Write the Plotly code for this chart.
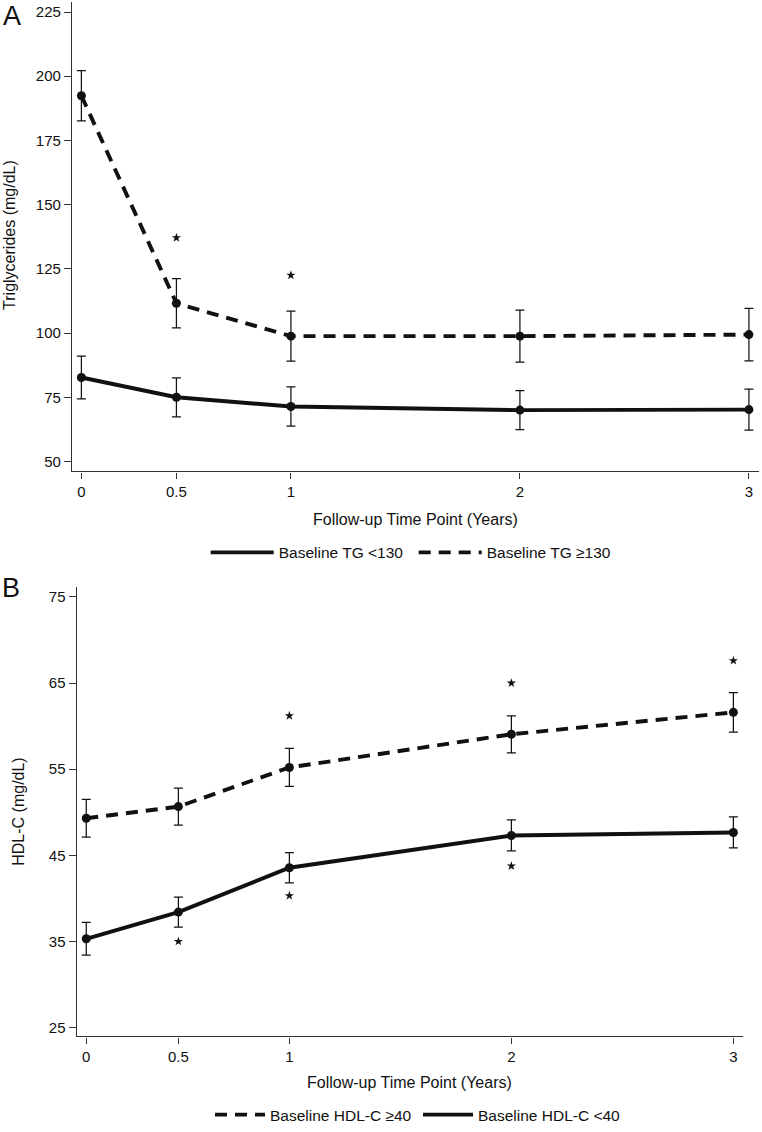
import plotly.graph_objects as go

# ---------------- data ----------------
time_pos = [0.085, 0.5, 1, 2, 3]          # plotted follow-up positions (years)
tick_labels = ["0", "0.5", "1", "2", "3"]

# Panel A: triglycerides (mg/dL), mean and error half-width
tg_low_mean = [82.7, 75.0, 71.4, 70.0, 70.2]
tg_low_err = [8.3, 7.6, 7.6, 7.6, 8.0]
tg_high_mean = [192.4, 111.6, 98.8, 98.8, 99.4]
tg_high_err = [9.8, 9.6, 9.7, 10.1, 10.2]
tg_star_x = [0.5, 1]
tg_star_y = [137.1, 122.5]
tg_ticks = [50, 75, 100, 125, 150, 175, 200, 225]

# Panel B: HDL-C (mg/dL)
hdl_high_mean = [49.3, 50.65, 55.2, 59.05, 61.6]
hdl_high_err = [2.2, 2.15, 2.2, 2.15, 2.3]
hdl_low_mean = [35.3, 38.4, 43.55, 47.3, 47.65]
hdl_low_err = [1.9, 1.75, 1.75, 1.8, 1.8]
hdl_star_x = [0.5, 1, 1, 2, 2, 3]
hdl_star_y = [35.0, 40.3, 61.2, 65.0, 43.75, 67.6]
hdl_ticks = [25, 35, 45, 55, 65, 75]

# ---------------- layout helpers ----------------
W, H = 762, 1132
FONT = "Liberation Sans, Arial, Helvetica, sans-serif"
INK = "#111111"
AX = "#333333"
DASH = "12px,8px"
LW = 3.9


def px(x):
    return x / W


def py(y):
    return 1 - y / H


def series(x, y, err, dash, xa, ya):
    return go.Scatter(
        x=x, y=y, mode="lines+markers", showlegend=False,
        line=dict(color=INK, width=LW, dash=dash),
        marker=dict(color=INK, size=9, symbol="circle"),
        error_y=dict(type="data", array=err, visible=True, color=INK,
                     thickness=1.25, width=4.5),
        xaxis=xa, yaxis=ya,
    )


def key(name, dash, xa, ya, legend):
    # legend-only entry (line sample without marker)
    return go.Scatter(
        x=[None], y=[None], mode="lines", name=name,
        line=dict(color=INK, width=LW, dash=dash),
        xaxis=xa, yaxis=ya, legend=legend, showlegend=True,
    )


def stars(x, y, xa, ya):
    return go.Scatter(
        x=x, y=y, mode="markers", showlegend=False, hoverinfo="skip",
        marker=dict(symbol="star", size=7, color=INK),
        xaxis=xa, yaxis=ya,
    )


fig = go.Figure()
fig.add_trace(series(time_pos, tg_low_mean, tg_low_err, "solid", "x", "y"))
fig.add_trace(series(time_pos, tg_high_mean, tg_high_err, DASH, "x", "y"))
fig.add_trace(stars(tg_star_x, tg_star_y, "x", "y"))
fig.add_trace(key("Baseline TG <130", "solid", "x", "y", "legend"))
fig.add_trace(key("Baseline TG \u2265130", DASH, "x", "y", "legend"))

fig.add_trace(series(time_pos, hdl_high_mean, hdl_high_err, DASH, "x2", "y2"))
fig.add_trace(series(time_pos, hdl_low_mean, hdl_low_err, "solid", "x2", "y2"))
fig.add_trace(stars(hdl_star_x, hdl_star_y, "x2", "y2"))
fig.add_trace(key("Baseline HDL-C \u226540", DASH, "x2", "y2", "legend2"))
fig.add_trace(key("Baseline HDL-C <40", "solid", "x2", "y2", "legend2"))

axis_common = dict(
    showline=True, linecolor=AX, linewidth=1.3, showgrid=False,
    zeroline=False, ticks="outside", tickcolor=AX, tickwidth=1.1,
    tickfont=dict(family=FONT, size=15, color=INK), automargin=False,
)

fig.update_layout(
    width=W, height=H, autosize=False,
    margin=dict(l=0, r=0, t=0, b=0),
    paper_bgcolor="white", plot_bgcolor="white",
    font=dict(family=FONT, color=INK),
    xaxis=dict(domain=[px(72), px(759)], anchor="y", range=[0.044, 3.044],
               tickvals=time_pos, ticktext=tick_labels, ticklen=6,
               **axis_common),
    yaxis=dict(domain=[py(475.7), py(2)], anchor="x", range=[46.1, 228.9],
               tickvals=tg_ticks, ticklen=7, **axis_common),
    xaxis2=dict(domain=[px(76.7), px(742.7)], anchor="y2",
                range=[0.042, 3.042], tickvals=time_pos,
                ticktext=tick_labels, ticklen=6, **axis_common),
    yaxis2=dict(domain=[py(1045.7), py(592.7)], anchor="x2",
                range=[23.96, 76.1], tickvals=hdl_ticks, ticklen=7,
                **axis_common),
    legend=dict(orientation="h", x=px(205.7), xanchor="left",
                y=py(557.7), yanchor="middle", bgcolor="rgba(0,0,0,0)",
                font=dict(family=FONT, size=15.5, color=INK),
                itemwidth=63, entrywidth=130, tracegroupgap=0),
    legend2=dict(orientation="h", x=px(210), xanchor="left",
                 y=py(1125), yanchor="middle", bgcolor="rgba(0,0,0,0)",
                 font=dict(family=FONT, size=15.5, color=INK),
                 itemwidth=50, entrywidth=143, tracegroupgap=0),
    showlegend=True,
)

annos = [
    dict(text="A", x=px(1), y=py(16.5), xanchor="left", yanchor="middle",
         font=dict(size=27)),
    dict(text="B", x=px(0), y=py(593), xanchor="left", yanchor="middle",
         font=dict(size=27)),
    dict(text="Triglycerides (mg/dL)", x=px(10), y=py(237), textangle=-90,
         xanchor="center", yanchor="middle", font=dict(size=16)),
    dict(text="HDL-C (mg/dL)", x=px(19), y=py(819), textangle=-90,
         xanchor="center", yanchor="middle", font=dict(size=16)),
    dict(text="Follow-up Time Point (Years)", x=px(415.5), y=py(524),
         xanchor="center", yanchor="middle", font=dict(size=16)),
    dict(text="Follow-up Time Point (Years)", x=px(409.7), y=py(1092),
         xanchor="center", yanchor="middle", font=dict(size=16)),
]
for a in annos:
    a.update(xref="paper", yref="paper", showarrow=False)
    a["font"].update(family=FONT, color=INK)
fig.update_layout(annotations=annos)

fig.write_html(
    "out.html",
    config={"displayModeBar": False},
    post_script="document.documentElement.style.margin='0';"
                "document.documentElement.style.overflow='hidden';"
                "document.body.style.margin='0';"
                "document.body.style.overflow='hidden';",
)
